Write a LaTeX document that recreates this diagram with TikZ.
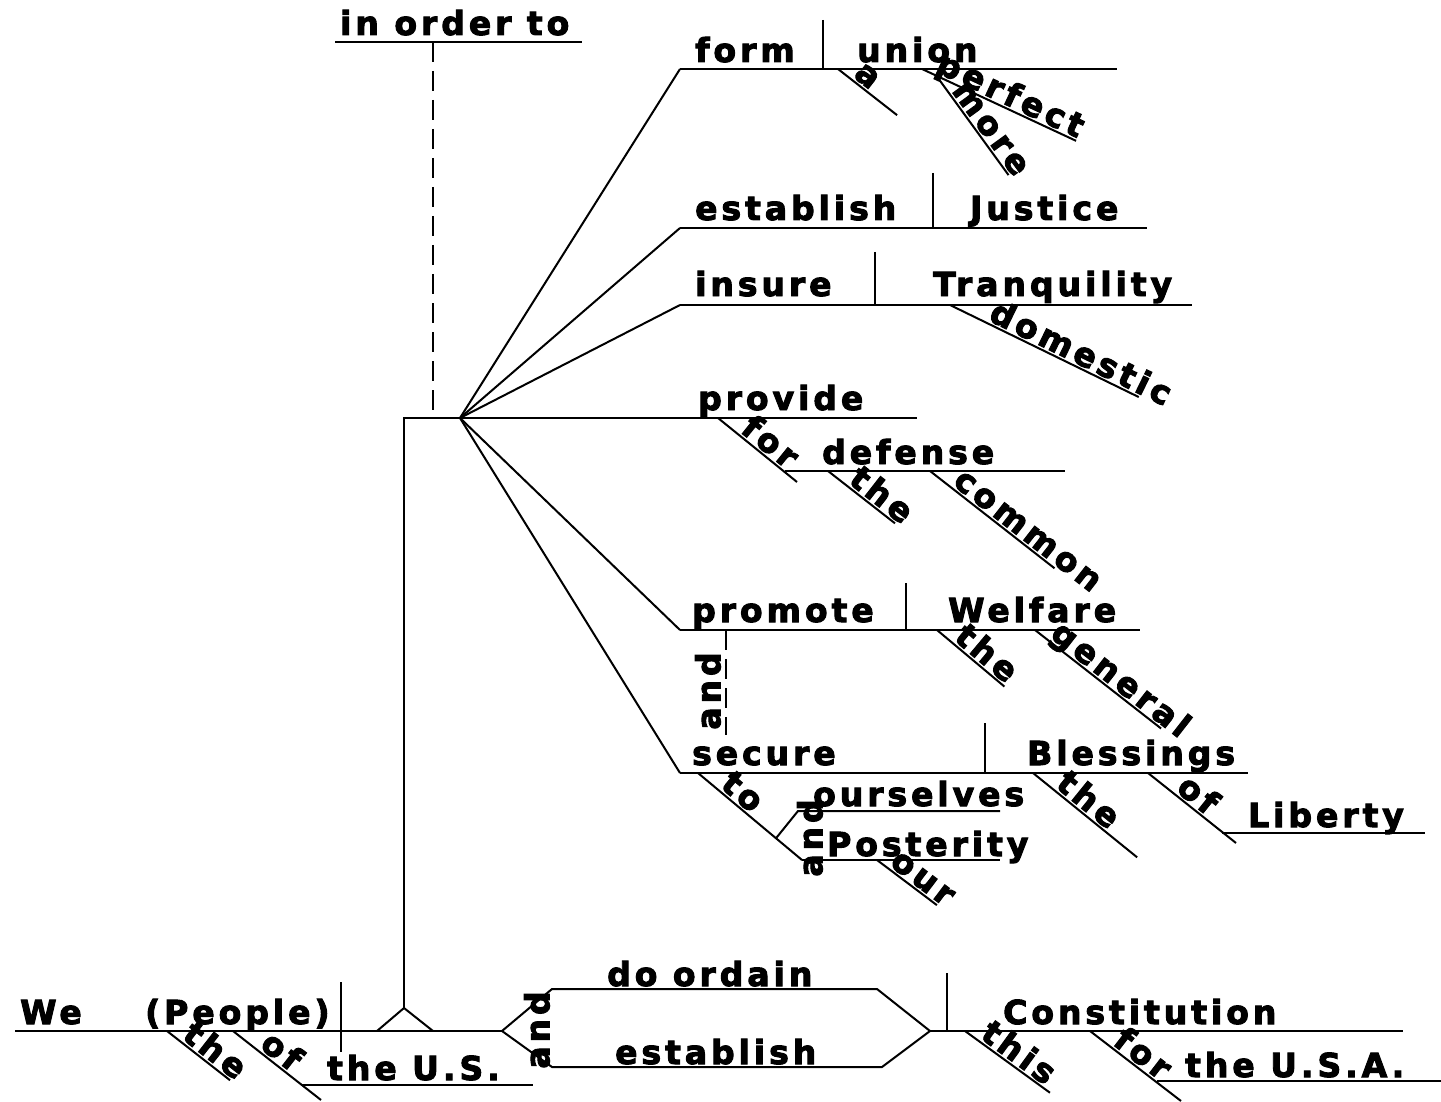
\documentclass[tikz,border=0pt]{standalone}
\usepackage{fontspec}
\newfontfamily\dgmfont{DejaVu Sans Bold}[LetterSpace=12, FakeBold=3]
\usetikzlibrary{calc}

% A slanted modifier line: name, start point, angle below horizontal,
% line length, distance of the word from the start, word.
\newcommand\modline[6]{%
  \draw[ln] (#2) -- ++(#3:#4) coordinate (#1end);
  \path (#2) ++(#3:#5) ++(#3-90:3) node[word, rotate=-#3, anchor=base west] (#1) {#6};
}

\tikzset{
  ln/.style={line width=2pt, black},
  dashline/.style={ln, dash pattern=on 20pt off 9pt},
  word/.style={font=\dgmfont\fontsize{33}{33}\selectfont, inner sep=0pt, text=black},
}

\begin{document}
\begin{tikzpicture}[x=1pt, y=-1pt]
\fill[white] (0,0) rectangle (1441,1102);
\useasboundingbox (0,0) rectangle (1441,1102);

% ---- key points ----
\coordinate (iotL) at (335,42);   \coordinate (iotR) at (582,42);
\coordinate (iotD) at (433,42);   \coordinate (iotB) at (433,418);
\coordinate (stemtop) at (404,418);
\coordinate (fan) at (460,418);
\coordinate (provR) at (917,418);
\coordinate (trapex) at (404,1008);
\coordinate (formL) at (680,69);  \coordinate (formR) at (1117,69);
\coordinate (estL) at (680,228);  \coordinate (estR) at (1147,228);
\coordinate (insL) at (680,305);  \coordinate (insR) at (1192,305);
\coordinate (promL) at (680,630); \coordinate (promR) at (1140,630);
\coordinate (secL) at (680,773);  \coordinate (secR) at (1248,773);

% ---- "in order to" ----
\draw[ln] (iotL) -- (iotR);
\node[word, anchor=base west] (iot) at (340,35) {in order to};
\draw[dashline] (iotD) -- (iotB);

% ---- stem and fan of infinitives ----
\draw[ln] (trapex) -- (stemtop) -- (provR);
\foreach \c in {formL,estL,insL,promL,secL} \draw[ln] (fan) -- (\c);

% ---- form union ----
\draw[ln] (formL) -- (formR);
\coordinate (formT) at (823,20); \coordinate (formB) at (823,69);
\draw[ln] (formT) -- (formB);
\node[word, anchor=base west] (form) at (695,62) {form};
\node[word, anchor=base west] (union) at (857,62) {union};
\modline{ma}{838,69}{38}{75}{16}{a}
\modline{mperfect}{922,69}{25}{170}{12}{perfect}
\modline{mmore}{938,78}{54}{120}{18}{more}

% ---- establish Justice ----
\draw[ln] (estL) -- (estR);
\coordinate (estT) at (933,173); \coordinate (estB) at (933,228);
\draw[ln] (estT) -- (estB);
\node[word, anchor=base west] (establish) at (695,220) {establish};
\node[word, anchor=base west] (justice) at (970,220) {Justice};

% ---- insure Tranquility ----
\draw[ln] (insL) -- (insR);
\coordinate (insT) at (875,252); \coordinate (insB) at (875,305);
\draw[ln] (insT) -- (insB);
\node[word, anchor=base west] (insure) at (695,296) {insure};
\node[word, anchor=base west] (tranq) at (933,296) {Tranquility};
\modline{mdomestic}{950,305}{26}{210}{40}{domestic}

% ---- provide for the common defense ----
\node[word, anchor=base west] (provide) at (698,410) {provide};
\coordinate (forS) at (718,418); \coordinate (forE) at (797,482);
\draw[ln] (forS) -- (forE);
\path (forS) ++(39:25) ++(-51:3) node[word, rotate=-39, anchor=base west] (pfor) {for};
\coordinate (defL) at (785,471); \coordinate (defR) at (1065,471);
\draw[ln] (defL) -- (defR);
\node[word, anchor=base west] (defense) at (822,464) {defense};
\modline{mthea}{828,471}{38}{85}{22}{the}
\modline{mcommon}{930,471}{38}{158}{25}{common}

% ---- promote the general Welfare ----
\draw[ln] (promL) -- (promR);
\coordinate (promT) at (906,583); \coordinate (promB) at (906,630);
\draw[ln] (promT) -- (promB);
\node[word, anchor=base west] (promote) at (692,622) {promote};
\node[word, anchor=base west] (welfare) at (948,622) {Welfare};
\modline{mtheb}{937,630}{40}{88}{18}{the}
\modline{mgeneral}{1035,630}{38}{160}{15}{general}
\coordinate (andT) at (726,630); \coordinate (andB) at (726,735);
\draw[dashline] (andT) -- (andB);
\node[word, rotate=90] (andA) at (708,691) {and};

% ---- secure the Blessings of Liberty to ourselves and our Posterity ----
\draw[ln] (secL) -- (secR);
\coordinate (secT) at (985,723); \coordinate (secB) at (985,773);
\draw[ln] (secT) -- (secB);
\node[word, anchor=base west] (secure) at (692,765) {secure};
\node[word, anchor=base west] (blessings) at (1027,765) {Blessings};
\coordinate (toS) at (698,773); \coordinate (toE) at (802,860);
\draw[ln] (toS) -- (toE);
\path (toS) ++(39.9:25) ++(-50.1:3) node[word, rotate=-39.9, anchor=base west] (pto) {to};
\coordinate (fork) at ($(toS)!0.75!(toE)$);
\coordinate (oursL) at (798,811); \coordinate (oursR) at (1000,811);
\draw[ln] (fork) -- (oursL) -- (oursR);
\node[word, anchor=base west] (ourselves) at (813,806) {ourselves};
\coordinate (postR) at (1000,860);
\draw[ln] (toE) -- (postR);
\node[word, anchor=base west] (posterity) at (827,856) {Posterity};
\node[word, rotate=90] (andB2) at (810,838) {and};
\modline{mour}{877,860}{37}{75}{12}{our}
\modline{mthec}{1033,773}{39}{134}{25}{the}
\coordinate (ofS) at (1148,773); \coordinate (ofE) at (1236,843);
\draw[ln] (ofS) -- (ofE);
\path (ofS) ++(38.5:32) ++(-51.5:3) node[word, rotate=-38.5, anchor=base west] (pof) {of};
\coordinate (libL) at (1222,833); \coordinate (libR) at (1425,833);
\draw[ln] (libL) -- (libR);
\node[word, anchor=base west] (liberty) at (1248,827) {Liberty};

% ---- base line: We the People ... ----
\coordinate (baseL) at (15,1031);
\coordinate (dmL) at (502,1031);
\coordinate (dmUL) at (552,989);  \coordinate (dmUR) at (877,989);
\coordinate (dmR) at (930,1031);
\coordinate (dmLR) at (882,1067); \coordinate (dmLL) at (552,1067);
\coordinate (baseR) at (1403,1031);
\draw[ln] (baseL) -- (dmL);
\draw[ln] (dmL) -- (dmUL) -- (dmUR) -- (dmR) -- (dmLR) -- (dmLL) -- cycle;
\draw[ln] (dmR) -- (baseR);
\coordinate (subjT) at (341,982); \coordinate (subjB) at (341,1052);
\draw[ln] (subjT) -- (subjB);
\coordinate (triL) at (377,1031); \coordinate (triR) at (433,1031);
\draw[ln] (triL) -- (trapex) -- (triR);
\coordinate (objT) at (947,973); \coordinate (objB) at (947,1031);
\draw[ln] (objT) -- (objB);

\node[word, anchor=base west] (we) at (20,1024) {We};
\node[word, anchor=base west] (people) at (145,1024) {(People)};
\modline{mthed}{167,1031}{38}{80}{15}{the}
\coordinate (ofbS) at (233,1031); \coordinate (ofbE) at (321,1100);
\draw[ln] (ofbS) -- (ofbE);
\path (ofbS) ++(38:30) ++(-52:3) node[word, rotate=-38, anchor=base west] (pofb) {of};
\coordinate (usL) at (302,1085); \coordinate (usR) at (533,1085);
\draw[ln] (usL) -- (usR);
\node[word, anchor=base west] (us) at (327,1080) {the U.S.};

\node[word, rotate=90] (andC) at (537,1030) {and};
\node[word, anchor=base west] (ordain) at (607,986) {do ordain};
\node[word, anchor=base west] (establishb) at (615,1064) {establish};
\node[word, anchor=base west] (constitution) at (1003,1024) {Constitution};
\modline{mthis}{965,1031}{36}{105}{15}{this}
\coordinate (forbS) at (1090,1031); \coordinate (forbE) at (1181,1101);
\draw[ln] (forbS) -- (forbE);
\path (forbS) ++(37.5:25) ++(-52.5:3) node[word, rotate=-37.5, anchor=base west] (pforb) {for};
\coordinate (usaL) at (1157,1081); \coordinate (usaR) at (1441,1081);
\draw[ln] (usaL) -- (usaR);
\node[word, anchor=base west] (usa) at (1185,1077) {the U.S.A.};
\end{tikzpicture}
\end{document}
